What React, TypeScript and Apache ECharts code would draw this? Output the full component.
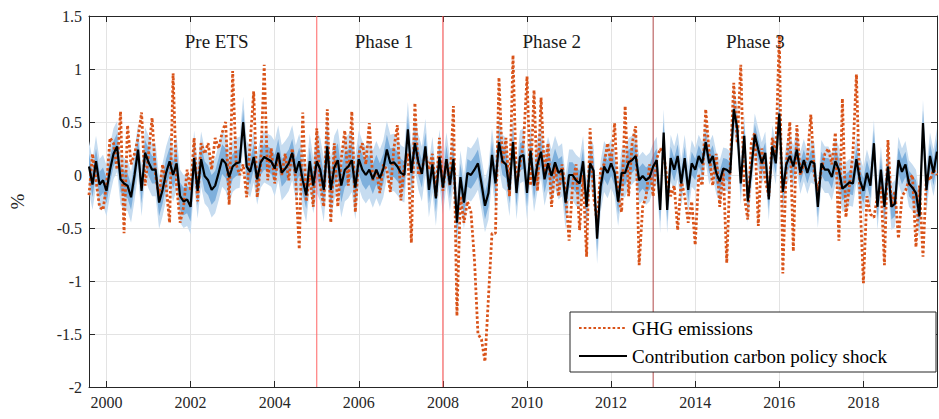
import React, { useEffect, useRef } from "react";
import * as echarts from "echarts";

// Monthly observations, August 1999 .. October 2019
const firstYear = 1999;
const firstMonthIndex = 7; // August (0-based)

const ghgEmissions = [
  -0.19, 0.2, -0.05, -0.3, -0.33, -0.1, 0.35, 0.3, 0.05, 0.6, -0.55, 0.47,
  0.1, 0.2, 0.35, 0.59, -0.1, 0.2, 0.54, 0.0, -0.2, 0.1, -0.1, -0.45,
  0.96, -0.1, -0.45, -0.3, 0.05, -0.15, 0.35, -0.25, 0.3, 0.2, 0.3, 0.05,
  0.35, 0.25, 0.4, 0.5, -0.28, 0.98, 0.1, 0.0, 0.1, -0.21, 0.3, 0.79,
  -0.21, 0.1, 1.04, -0.05, 0.25, -0.08, 0.2, 0.0, 0.2, -0.05, 0.25, -0.05,
  -0.7, 0.59, -0.25, 0.0, -0.3, 0.44, -0.1, -0.3, 0.62, -0.45, 0.3, -0.3,
  0.15, 0.42, -0.1, 0.6, -0.35, 0.2, 0.3, 0.1, 0.49, -0.05, 0.05, -0.17,
  0.1, 0.05, -0.16, 0.25, 0.47, -0.24, 0.1, 0.2, -0.64, 0.68, 0.0, 0.05,
  0.2, 0.05, 0.2, -0.2, 0.35, -0.15, 0.15, -0.1, 0.65, -1.33, -0.2, -0.45,
  -0.25, -0.35, -0.8, -1.5, -1.55, -1.76, -1.15, -0.55, -0.55, 0.92, 0.1, 0.35,
  -0.2, 1.13, -0.1, 0.1, 0.3, 0.93, -0.1, 0.8, -0.15, 0.73, 0.0, 0.3,
  -0.3, 0.1, -0.2, 0.1, -0.15, -0.62, -0.1, 0.1, -0.52, 0.0, -0.77, 0.44,
  -0.2, -0.45, 0.05, 0.1, 0.3, 0.1, 0.49, -0.2, -0.35, 0.65, -0.2, 0.3,
  0.46, -0.85, -0.3, -0.2, 0.1, -0.2, 0.15, 0.25, 0.2, -0.05, -0.2, -0.1,
  -0.52, -0.05, -0.2, -0.45, -0.25, -0.66, 0.0, -0.1, 0.62, 0.2, -0.1, 0.2,
  -0.3, 0.05, -0.83, 0.1, 0.87, 0.3, 1.04, -0.2, -0.42, 0.3, 0.4, -0.48,
  0.25, -0.05, -0.2, 0.35, 0.2, 1.32, -0.93, 0.1, 0.5, -0.72, 0.47, 0.0,
  0.1, 0.15, 0.57, 0.0, -0.15, 0.05, 0.2, 0.25, 0.1, 0.4, -0.62, 0.72,
  -0.4, -0.1, 0.2, 0.95, -0.2, -1.02, -0.2, -0.37, -0.4, -0.2, -0.1, -0.85,
  0.33, -0.3, -0.15, -0.6, -0.2, -0.15, -0.05, 0.0, -0.68, -0.1, -0.77, 0.0,
  -0.05, 0.05, 0.0,
];

const policyContribution = [
  0.08, -0.09, 0.13, -0.09, -0.05, -0.15, 0.05, 0.2, 0.27, -0.04, -0.08, -0.1,
  -0.21, 0.0, 0.24, -0.15, 0.21, 0.12, 0.05, 0.05, -0.26, -0.14, 0.02, 0.13,
  0.0, 0.11, -0.2, -0.25, -0.23, -0.3, 0.16, -0.15, 0.15, -0.01, -0.05, -0.14,
  -0.1, 0.02, 0.15, 0.11, -0.02, 0.08, 0.11, 0.12, 0.5, 0.08, 0.03, 0.17,
  -0.04, 0.12, 0.17, 0.15, 0.13, 0.06, 0.21, 0.02, 0.06, 0.11, 0.21, 0.02,
  0.13, -0.05, -0.19, 0.13, -0.1, 0.13, 0.05, -0.14, 0.27, -0.14, 0.07, 0.14,
  -0.1, 0.05, 0.08, 0.14, -0.12, 0.15, 0.05, 0.0, 0.05, -0.04, 0.05, -0.03,
  0.06, 0.24, 0.11, 0.12, 0.08, 0.02, 0.0, 0.43, 0.02, 0.3, 0.12, 0.01,
  0.27, -0.14, 0.1, -0.22, 0.17, -0.12, 0.15, -0.09, 0.15, -0.45, -0.02, -0.26,
  0.02, 0.0, 0.05, 0.11, -0.08, -0.29, -0.17, 0.19, -0.08, 0.31, 0.13, 0.1,
  -0.14, 0.31, -0.17, 0.17, 0.19, -0.17, 0.23, -0.1, 0.1, 0.22, -0.04, 0.11,
  -0.01, 0.12, 0.02, 0.05, -0.26, 0.0, 0.0, -0.05, -0.08, 0.13, -0.3, 0.11,
  0.04, -0.6, -0.11, 0.08, 0.02, 0.11, 0.02, -0.25, 0.02, 0.02, 0.12, 0.14,
  0.18, -0.05, -0.01, -0.05, -0.02, 0.08, 0.14, -0.33, 0.4, -0.33, 0.16, 0.05,
  0.18, -0.08, 0.16, -0.14, 0.11, 0.05, 0.18, 0.11, 0.31, 0.11, 0.18, 0.02,
  -0.06, 0.06, 0.05, 0.02, 0.62, 0.44, -0.08, 0.37, -0.25, 0.05, 0.38, 0.24,
  0.11, 0.21, -0.23, 0.27, 0.11, 0.58, -0.16, 0.1, 0.18, 0.08, 0.24, 0.02,
  0.14, 0.02, 0.13, 0.11, -0.3, 0.11, 0.05, 0.05, -0.02, 0.13, 0.05, -0.13,
  -0.1, -0.07, -0.08, 0.15, -0.05, -0.15, 0.02, -0.1, 0.3, -0.3, 0.05, -0.3,
  0.08, -0.3, -0.27, 0.14, 0.03, 0.1, -0.08, -0.12, -0.17, -0.39, 0.49, -0.14,
  0.18, 0.02, 0.22,
];

// Half-widths of the credible bands, by calendar year 1999..2019
const outerBandByYear = [0.24, 0.24, 0.25, 0.26, 0.24, 0.26, 0.3, 0.27, 0.26, 0.25, 0.25, 0.25, 0.24, 0.23, 0.22, 0.2, 0.2, 0.2, 0.22, 0.22, 0.22];
const innerBandByYear = [0.12, 0.12, 0.13, 0.14, 0.12, 0.13, 0.16, 0.14, 0.13, 0.13, 0.13, 0.13, 0.12, 0.12, 0.11, 0.1, 0.1, 0.1, 0.11, 0.12, 0.12];

const xTickYears = [2000, 2002, 2004, 2006, 2008, 2010, 2012, 2014, 2016, 2018];
const phaseStarts = [2005, 2008, 2013];
const phaseLineColors = ["#ff6464", "#ff4d4d", "#b04848"];
const phaseNames = ["Pre ETS", "Phase 1", "Phase 2", "Phase 3"];
const phaseLabelX = [2002.62, 2006.6, 2010.59, 2015.43];
const phaseLabelY = 1.26;

const yMin = -2;
const yMax = 1.5;

const seriesNames = ["GHG emissions", "Contribution carbon policy shock"];

const FONT = "'Liberation Serif', 'Times New Roman', serif";
const AXIS_COLOR = "#262626";

const months = ghgEmissions.map((_, i) => firstYear + (firstMonthIndex + i) / 12);

export default function App() {
  const ref = useRef<HTMLDivElement>(null);

  useEffect(() => {
    if (!ref.current) return;
    const chart = echarts.init(ref.current, null, { renderer: "svg" });
    const xMin = months[0];
    const xMax = months[months.length - 1];

    const yearIdx = (m: number) => Math.min(outerBandByYear.length - 1, Math.floor(m + 1e-6) - firstYear);

    const phaseLineSeries = phaseStarts.map((x, i) => ({
      type: "line",
      name: "phase" + i,
      z: 2,
      silent: true,
      symbol: "none",
      showSymbol: false,
      data: [
        [x, yMin],
        [x, yMax],
      ],
      lineStyle: { color: phaseLineColors[i], width: 1, type: "solid" },
      itemStyle: { color: phaseLineColors[i] },
      emphasis: { disabled: true },
    }));

    const option: any = {
      animation: false,
      backgroundColor: "#ffffff",
      grid: { left: 87, right: 2, top: 16, bottom: 32, containLabel: false },
      legend: {
        data: seriesNames,
        orient: "vertical",
        right: 3,
        top: 312,
        backgroundColor: "#ffffff",
        borderColor: AXIS_COLOR,
        borderWidth: 1,
        borderRadius: 0,
        padding: [5, 8, 5, 8],
        itemGap: 6,
        itemWidth: 48,
        itemHeight: 14,
        itemStyle: { opacity: 0, borderWidth: 0 },
        textStyle: { fontFamily: FONT, fontSize: 19, color: "#000", lineHeight: 22, width: 296 },
      },
      xAxis: [
        {
          type: "value",
          min: xMin,
          max: xMax,
          position: "bottom",
          axisLine: { show: true, onZero: false, lineStyle: { color: AXIS_COLOR, width: 1 } },
          axisTick: { show: true, inside: true, length: 6, customValues: xTickYears, lineStyle: { color: AXIS_COLOR } },
          axisLabel: {
            customValues: xTickYears,
            formatter: (v: number) => String(Math.round(v)),
            color: AXIS_COLOR,
            fontFamily: FONT,
            fontSize: 16,
            margin: 7,
          },
          splitLine: { show: true, lineStyle: { color: "#e3e3e3", width: 1 } },
        },
        {
          type: "value",
          min: xMin,
          max: xMax,
          position: "top",
          axisLine: { show: true, onZero: false, lineStyle: { color: AXIS_COLOR, width: 1 } },
          axisTick: { show: true, inside: true, length: 6, customValues: xTickYears, lineStyle: { color: AXIS_COLOR } },
          axisLabel: { show: false },
          splitLine: { show: false },
        },
      ],
      yAxis: [
        {
          type: "value",
          min: yMin,
          max: yMax,
          interval: 0.5,
          position: "left",
          name: "%",
          nameLocation: "middle",
          nameRotate: 90,
          nameGap: 62,
          nameTextStyle: { fontFamily: FONT, fontSize: 19, color: AXIS_COLOR },
          axisLine: { show: true, onZero: false, lineStyle: { color: AXIS_COLOR, width: 1 } },
          axisTick: { show: true, inside: true, length: 6, lineStyle: { color: AXIS_COLOR } },
          axisLabel: { color: AXIS_COLOR, fontFamily: FONT, fontSize: 16, margin: 7 },
          splitLine: { show: true, lineStyle: { color: "#e3e3e3", width: 1 } },
        },
        {
          type: "value",
          min: yMin,
          max: yMax,
          interval: 0.5,
          position: "right",
          axisLine: { show: true, onZero: false, lineStyle: { color: AXIS_COLOR, width: 1 } },
          axisTick: { show: true, inside: true, length: 6, lineStyle: { color: AXIS_COLOR } },
          axisLabel: { show: false },
          splitLine: { show: false },
        },
      ],
      series: [
        {
          type: "custom",
          name: "bands",
          silent: true,
          clip: true,
          z: 1,
          xAxisIndex: 0,
          yAxisIndex: 0,
          data: [[months[0], policyContribution[0]]],
          renderItem: (_params: any, api: any) => {
            const band = (w: number[]) => {
              const top = months.map((m, i) => api.coord([m, policyContribution[i] + w[yearIdx(m)]]));
              const bottom = months.map((m, i) => api.coord([m, policyContribution[i] - w[yearIdx(m)]]));
              return top.concat(bottom.reverse());
            };
            return {
              type: "group",
              children: [
                { type: "polygon", shape: { points: band(outerBandByYear) }, style: { fill: "#c6dcf0", stroke: null } },
                { type: "polygon", shape: { points: band(innerBandByYear) }, style: { fill: "#7fb0dc", stroke: null } },
              ],
            };
          },
        },
        ...phaseLineSeries,
        {
          type: "line",
          name: seriesNames[0],
          z: 3,
          data: months.map((m, i) => [m, ghgEmissions[i]]),
          symbol: "none",
          showSymbol: false,
          lineStyle: { color: "#D95319", width: 2.8, type: [2.6, 2.2], cap: "butt" },
          itemStyle: { color: "#D95319" },
          markPoint: {
            silent: true,
            symbol: "circle",
            symbolSize: 0,
            label: {
              show: true,
              position: "inside",
              formatter: (p: any) => p.name,
              fontFamily: FONT,
              fontSize: 19,
              color: "#1a1a1a",
            },
            data: phaseNames.map((n, i) => ({ name: n, coord: [phaseLabelX[i], phaseLabelY] })),
          },
        },
        {
          type: "line",
          name: seriesNames[1],
          z: 4,
          data: months.map((m, i) => [m, policyContribution[i]]),
          symbol: "none",
          showSymbol: false,
          lineStyle: { color: "#000000", width: 2.2 },
          itemStyle: { color: "#000000" },
        },
      ],
    };

    chart.setOption(option);
    return () => chart.dispose();
  }, []);

  return <div ref={ref} style={{ width: 939, height: 419, position: "absolute", left: 0, top: 0 }} />;
}
